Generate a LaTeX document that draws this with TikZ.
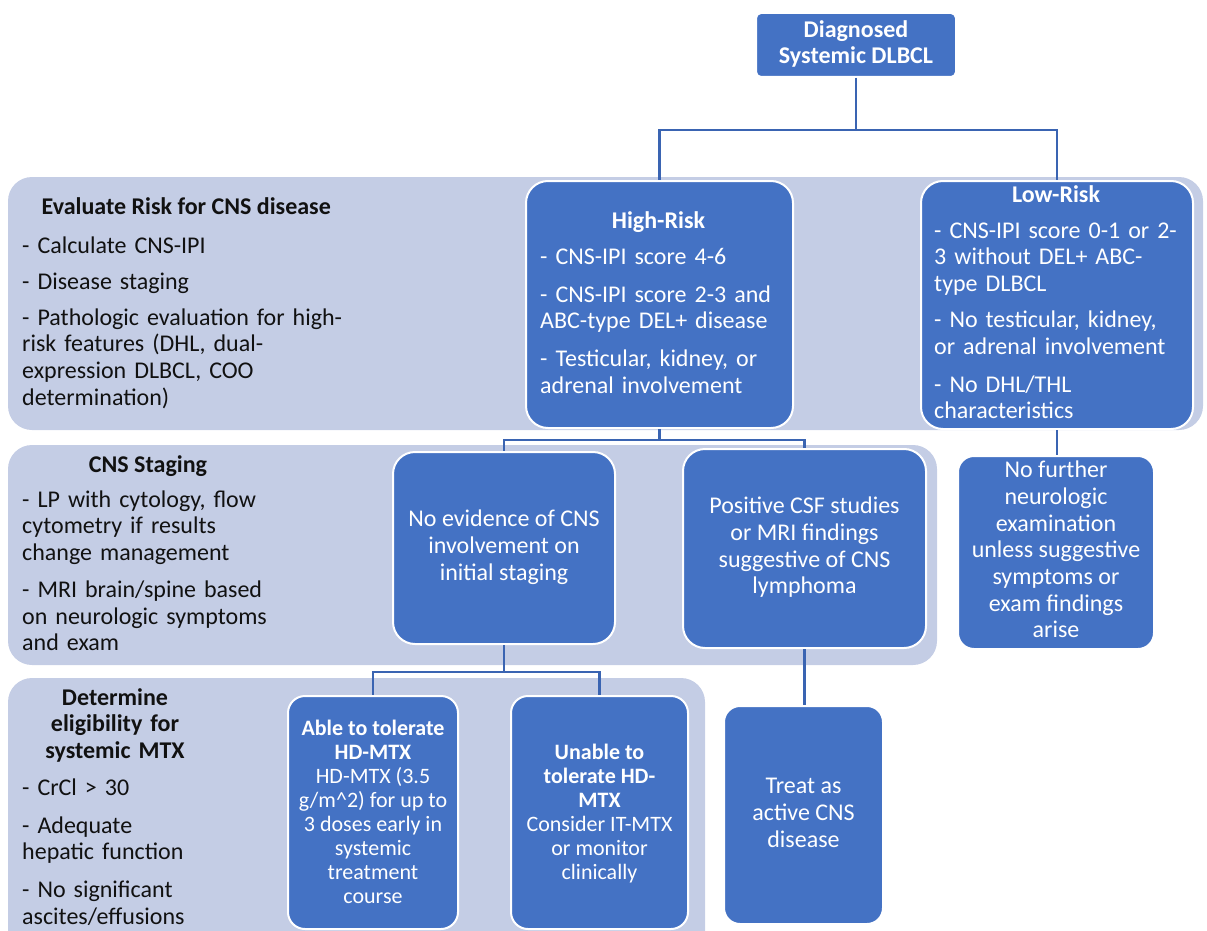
\documentclass[tikz,border=0pt]{standalone}
\usepackage{fontspec}
\setmainfont{Carlito}
\definecolor{boxblue}{RGB}{68,114,196}
\definecolor{bandblue}{RGB}{196,205,229}
\definecolor{linkblue}{RGB}{58,100,178}
\definecolor{ink}{RGB}{17,17,17}
\newcommand{\topstrut}{\rule{0pt}{22pt}}
\begin{document}
\begin{tikzpicture}[x=1pt,y=-1pt,
  band/.style={fill=bandblue, rounded corners=24pt},
  box/.style={fill=boxblue, draw=white, line width=2pt, rounded corners=#1,
              text=white, inner sep=0pt, align=center, anchor=north west,
              font=\fontsize{24}{26.7}\selectfont},
  box/.default=20pt,
  wh/.style 2 args={minimum width=#1, minimum height=#2},
  link/.style={draw=linkblue, line width=2.5pt},
  head/.style={inner sep=0pt, anchor=base, font=\bfseries\fontsize{24}{26.5}\selectfont},
  body/.style={inner sep=0pt, align=left, text width=#1, anchor=base west,
               font=\fontsize{24}{26.7}\selectfont},
]
\useasboundingbox (0,0) rectangle (1207,931);

% background bands
\fill[band] (8,177) rectangle (1203,430);
\fill[band] (8,445) rectangle (937,665);
\fill[band] (8,678) rectangle (705,980);

% boxes
\node[box=5pt, wh={200pt}{64pt}, font=\bfseries\fontsize{24}{26}\selectfont] (top) at (755,12) {\strut Diagnosed\\Systemic DLBCL\strut};
\node[box=22pt, wh={267pt}{247pt}] (hr) at (525,180) {};
\node[box=22pt, wh={272pt}{248pt}] (lr) at (920,180) {};
\node[box=22pt, wh={222pt}{192pt}] (ne) at (392,451) {\strut No evidence of CNS\\involvement on\\initial staging\strut};
\node[box=22pt, wh={243pt}{199pt}] (pc) at (682,448) {\strut Positive CSF studies\\or MRI findings\\suggestive of CNS\\lymphoma\strut};
\node[box=16pt, wh={196pt}{193pt}] (nf) at (957,455) {\strut No further\\neurologic\\examination\\unless suggestive\\symptoms or\\exam findings\\arise\strut};
\node[box=17pt, wh={170pt}{233pt}, font=\fontsize{22}{24}\selectfont] (able) at (287,695) {\topstrut\textbf{Able to tolerate}\\\textbf{HD-MTX}\\HD-MTX (3.5\\g/m\textasciicircum 2) for up to\\3 doses early in\\systemic\\treatment\\course\strut};
\node[box=17pt, wh={177pt}{233pt}, font=\fontsize{22}{24}\selectfont] (unable) at (510,695) {\topstrut\textbf{Unable to}\\\textbf{tolerate HD-}\\\textbf{MTX}\\Consider IT-MTX\\or monitor\\clinically\strut};
\node[box=16pt, wh={159pt}{218pt}] (treat) at (723,705) {\strut Treat as\\active CNS\\disease\strut};

% connectors
\draw[link] (top.south) -- ++(0,52) -| (hr.north);
\draw[link] (top.south) -- ++(0,52) -| (lr.north);
\draw[link] (hr.south) -- ++(0,11) -| (ne.north);
\draw[link] (hr.south) -- ++(0,11) -| (pc.north);
\draw[link] (ne.south) -- ++(0,27) -| (able.north);
\draw[link] (ne.south) -- ++(0,27) -| (unable.north);
\draw[link] (pc.south) -- (pc.south |- treat.north);
\draw[link] (lr.south) -- (lr.south |- nf.north);

% texts in high / low risk boxes
\node[head, text=white] (hrh) at (658.5,228) {High-Risk};
\node[body=250pt, text=white] (hrb) at (540,264) {- CNS-IPI score 4-6\\[11.3pt]- CNS-IPI score 2-3 and\\ABC-type DEL+ disease\\[11.3pt]- Testicular, kidney, or\\adrenal involvement};
\node[head, text=white] (lrh) at (1056,202) {Low-Risk};
\node[body=255pt, text=white] (lrb) at (934,238) {- CNS-IPI score 0-1 or 2-\\3 without DEL+ ABC-\\type DLBCL\\[9.5pt]- No testicular, kidney,\\or adrenal involvement\\[11pt]- No DHL/THL\\characteristics};

% band texts
\node[head, text=ink, anchor=base west] (b1h) at (41.5,214) {Evaluate Risk for CNS disease};
\node[body=340pt, text=ink] (b1b) at (22,253) {- Calculate CNS-IPI\\[9.3pt]- Disease staging\\[9.3pt]- Pathologic evaluation for high-\\risk features (DHL, dual-\\expression DLBCL, COO\\determination)};
\node[head, text=ink] (b2h) at (148,472) {CNS Staging};
\node[body=340pt, text=ink] (b2b) at (22,507) {- LP with cytology, flow\\cytometry if results\\change management\\[10.3pt]- MRI brain/spine based\\on neurologic symptoms\\and exam};
\node[head, text=ink, align=center, text width=260pt] (b3h) at (115,705) {Determine\\eligibility for\\systemic MTX};
\node[body=260pt, text=ink] (b3b) at (22,795) {- CrCl > 30\\[11.3pt]- Adequate\\hepatic function\\[11.3pt]- No significant\\ascites/effusions};
\end{tikzpicture}
\end{document}
